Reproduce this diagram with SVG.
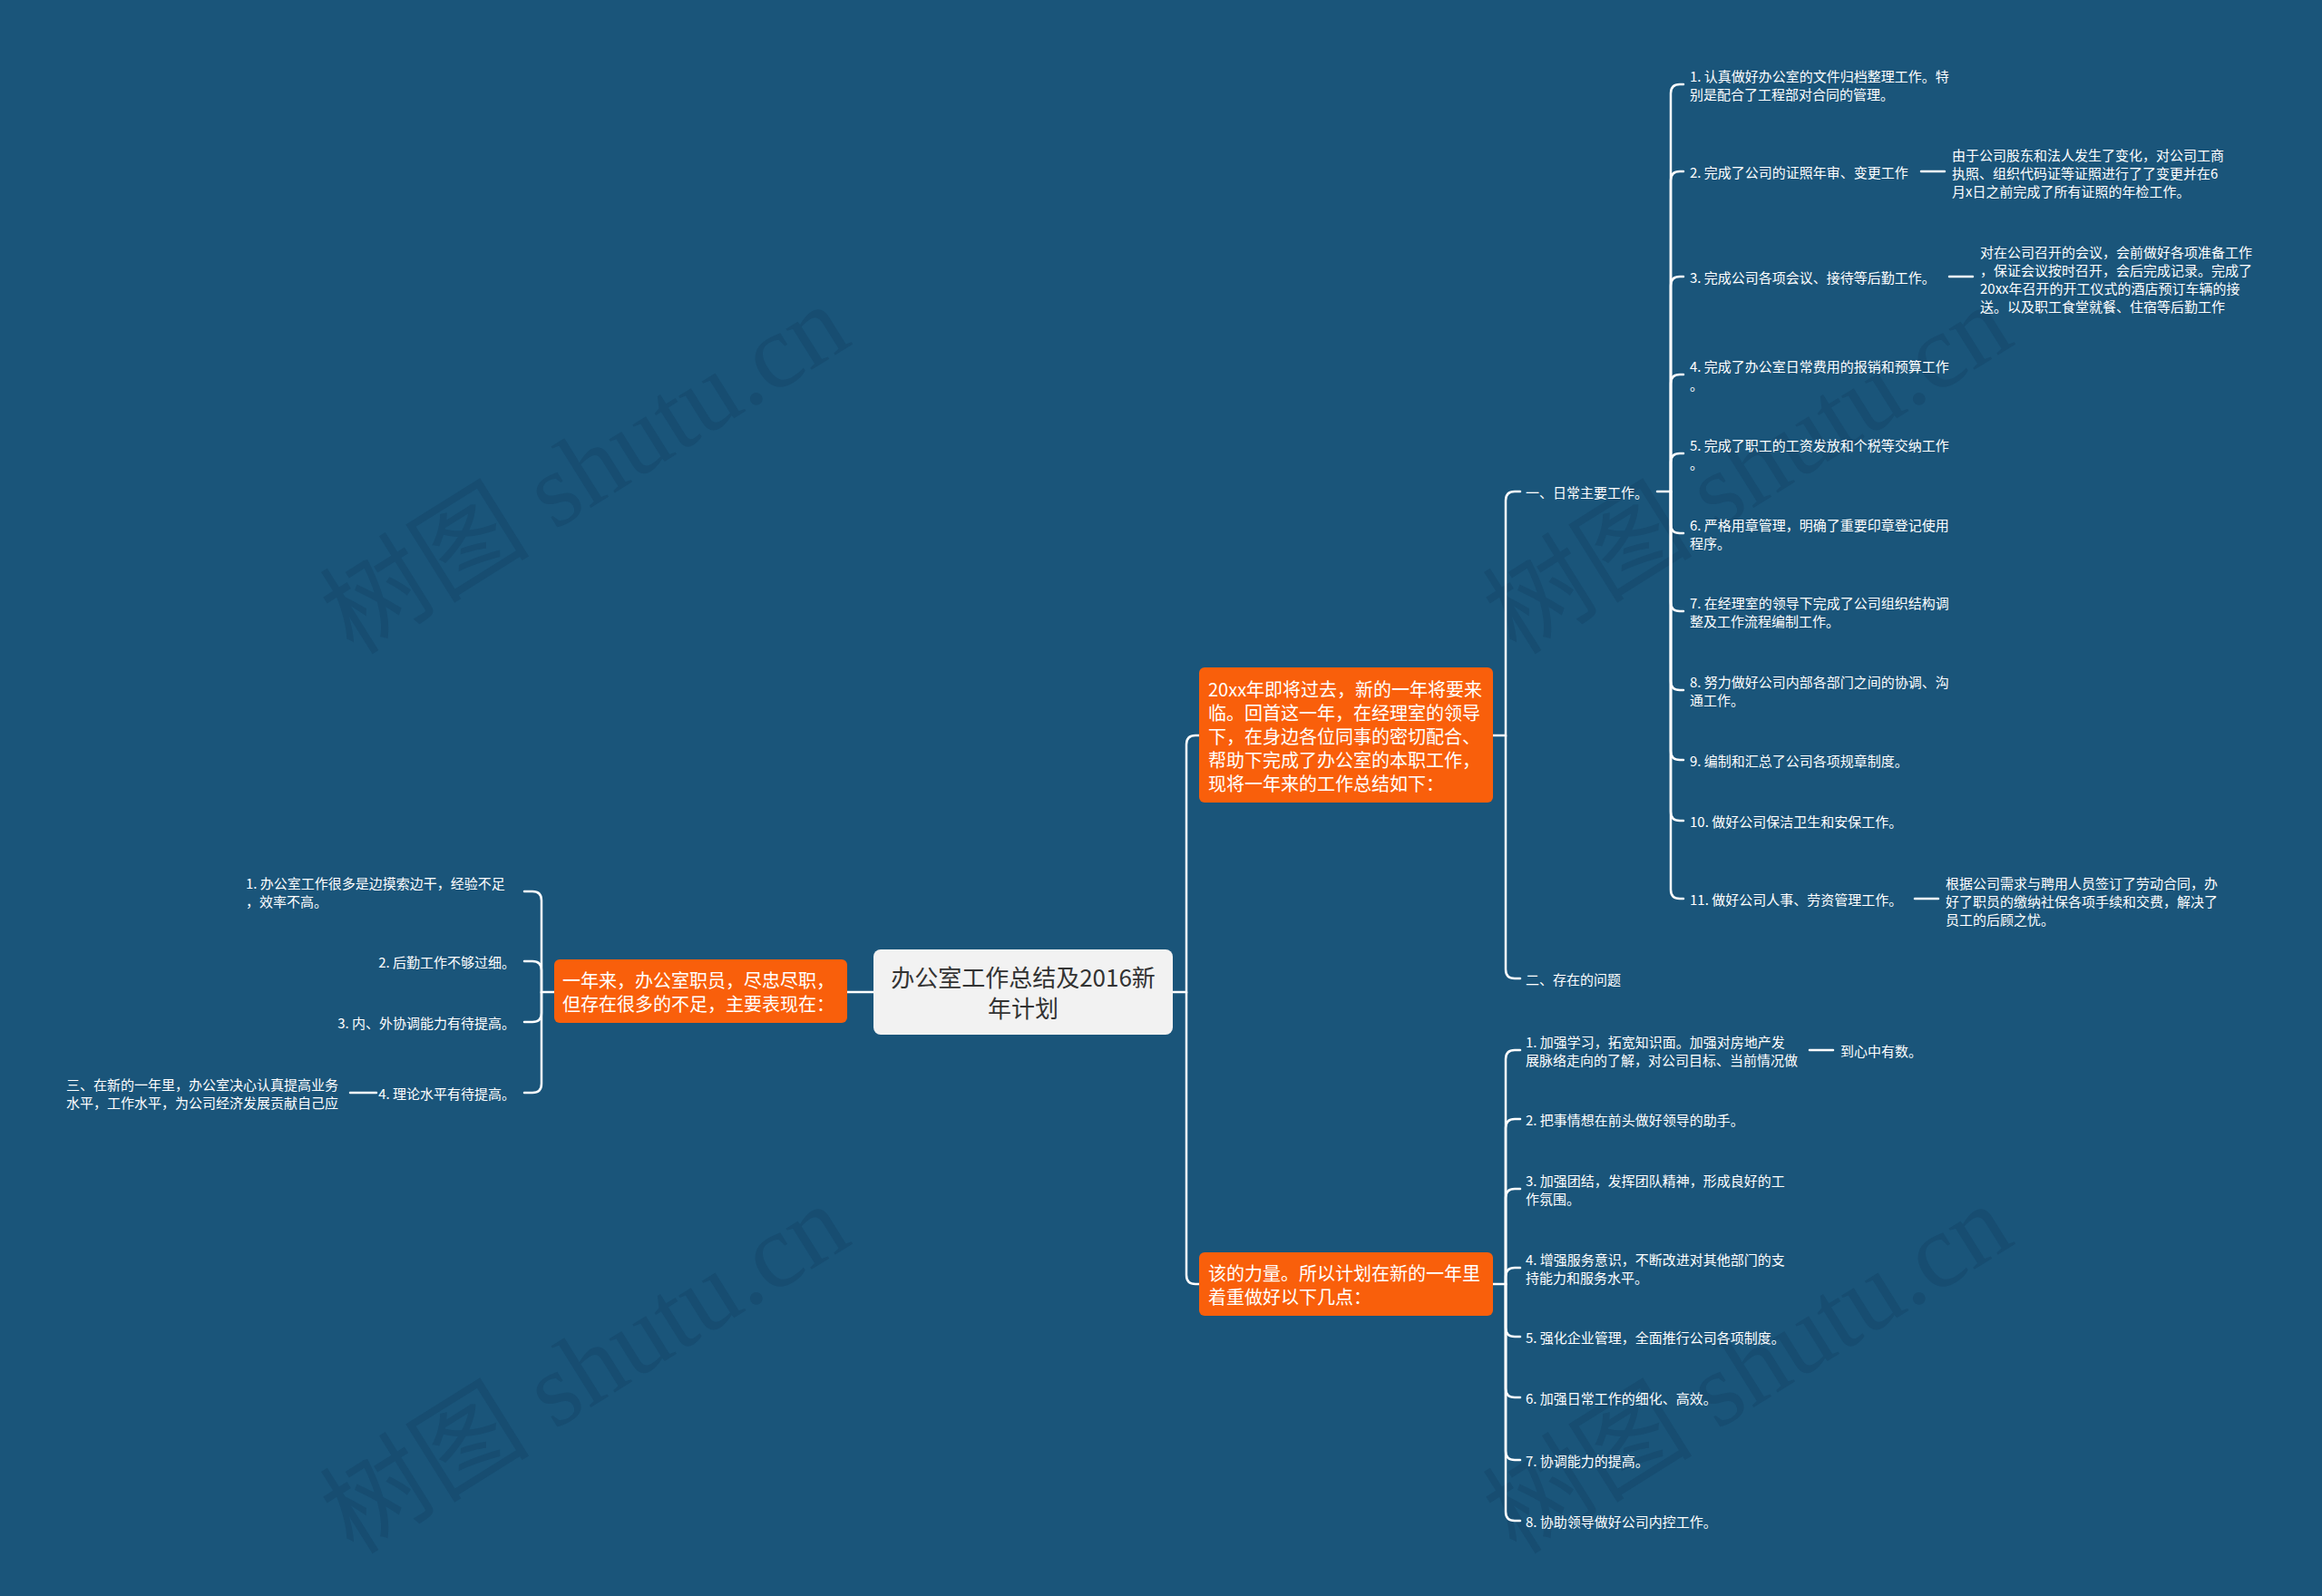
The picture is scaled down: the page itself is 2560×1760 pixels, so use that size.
<svg xmlns="http://www.w3.org/2000/svg" width="2560" height="1760" viewBox="0 0 2560 1760">
<style>
.bg{fill:#1A557A}
.wm{font-family:"Liberation Serif","Noto Sans CJK SC",serif;font-size:116px;fill:#174D71;text-anchor:middle;dominant-baseline:central}
.c{fill:none;stroke:#FFFFFF;stroke-width:2.5;stroke-linecap:round}
.t{font-family:"Noto Sans CJK SC","Noto Sans",sans-serif;font-size:15px;fill:#FFFFFF;dominant-baseline:central}
.e{text-anchor:end}
.o{fill:#F95F0B}
.ot{font-family:"Noto Sans CJK SC","Noto Sans",sans-serif;font-size:20px;fill:#FFFFFF;dominant-baseline:central}
.rt{font-family:"Noto Sans CJK SC","Noto Sans",sans-serif;font-size:26px;fill:#333333;text-anchor:middle;dominant-baseline:central}
</style>
<rect class="bg" x="0" y="0" width="2560" height="1760"/>
<g id="watermarks">
<text class="wm" transform="translate(645,518) rotate(-32)">树图 shutu.cn</text>
<text class="wm" transform="translate(1927,518) rotate(-32)">树图 shutu.cn</text>
<text class="wm" transform="translate(645,1510) rotate(-32)">树图 shutu.cn</text>
<text class="wm" transform="translate(1927,1510) rotate(-32)">树图 shutu.cn</text>
</g>
<g id="connectors">
<path class="c" d="M963,1094 H934"/>
<path class="c" d="M1293,1094 H1308 V821 Q1308,811 1318,811 H1322"/>
<path class="c" d="M1308,1094 V1406 Q1308,1416 1318,1416 H1322"/>
<path class="c" d="M611,1094 H597 V993 Q597,983 587,983 H578"/>
<path class="c" d="M597,1094 V1070 Q597,1060 587,1060 H578"/>
<path class="c" d="M597,1094 V1117 Q597,1127 587,1127 H578"/>
<path class="c" d="M597,1094 V1195 Q597,1205 587,1205 H578"/>
<path class="c" d="M415,1205 H386"/>
<path class="c" d="M1646,811 H1660 V552 Q1660,542 1670,542 H1676"/>
<path class="c" d="M1660,811 V1069 Q1660,1079 1670,1079 H1676"/>
<path class="c" d="M1827,542 H1842 V103 Q1842,93 1852,93 H1856"/>
<path class="c" d="M1842,542 V199 Q1842,189 1852,189 H1856"/>
<path class="c" d="M1842,542 V315 Q1842,305 1852,305 H1856"/>
<path class="c" d="M1842,542 V423 Q1842,413 1852,413 H1856"/>
<path class="c" d="M1842,542 V510 Q1842,500 1852,500 H1856"/>
<path class="c" d="M1842,542 V578 Q1842,588 1852,588 H1856"/>
<path class="c" d="M1842,542 V664 Q1842,674 1852,674 H1856"/>
<path class="c" d="M1842,542 V751 Q1842,761 1852,761 H1856"/>
<path class="c" d="M1842,542 V828 Q1842,838 1852,838 H1856"/>
<path class="c" d="M1842,542 V895 Q1842,905 1852,905 H1856"/>
<path class="c" d="M1842,542 V981 Q1842,991 1852,991 H1856"/>
<path class="c" d="M2118,189 H2144"/>
<path class="c" d="M2149,305 H2175"/>
<path class="c" d="M2111,991 H2137"/>
<path class="c" d="M1646,1416 H1660 V1168 Q1660,1158 1670,1158 H1676"/>
<path class="c" d="M1660,1416 V1244 Q1660,1234 1670,1234 H1676"/>
<path class="c" d="M1660,1416 V1321 Q1660,1311 1670,1311 H1676"/>
<path class="c" d="M1660,1416 V1408 Q1660,1398 1670,1398 H1676"/>
<path class="c" d="M1660,1416 V1464 Q1660,1474 1670,1474 H1676"/>
<path class="c" d="M1660,1416 V1531 Q1660,1541 1670,1541 H1676"/>
<path class="c" d="M1660,1416 V1600 Q1660,1610 1670,1610 H1676"/>
<path class="c" d="M1660,1416 V1667 Q1660,1677 1670,1677 H1676"/>
<path class="c" d="M1995,1158 H2021"/>
</g>
<g id="root">
<rect x="963" y="1047" width="330" height="94" rx="8" fill="#F2F2F2"/>
<text class="rt" x="1128" y="1076">办公室工作总结及2016新</text>
<text class="rt" x="1128" y="1110">年计划</text>
</g>
<g id="left-main">
<rect class="o" x="611" y="1058" width="323" height="70" rx="6"/>
<text class="ot" x="620" y="1080">一年来，办公室职员，尽忠尽职，</text>
<text class="ot" x="620" y="1106">但存在很多的不足，主要表现在：</text>
</g>
<g id="left-1"><text class="t" x="271" y="973">1. 办公室工作很多是边摸索边干，经验不足</text><text class="t" x="271" y="993">，效率不高。</text></g>
<g id="left-2"><text class="t e" x="568" y="1060">2. 后勤工作不够过细。</text></g>
<g id="left-3"><text class="t e" x="568" y="1127">3. 内、外协调能力有待提高。</text></g>
<g id="left-4"><text class="t e" x="568" y="1205">4. 理论水平有待提高。</text></g>
<g id="left-4-1"><text class="t" x="73" y="1195">三、在新的一年里，办公室决心认真提高业务</text><text class="t" x="73" y="1215">水平，工作水平，为公司经济发展贡献自己应</text></g>
<g id="top-main">
<rect class="o" x="1322" y="736" width="324" height="149" rx="6"/>
<text class="ot" x="1332" y="759">20xx年即将过去，新的一年将要来</text>
<text class="ot" x="1332" y="785">临。回首这一年，在经理室的领导</text>
<text class="ot" x="1332" y="811">下，在身边各位同事的密切配合、</text>
<text class="ot" x="1332" y="837">帮助下完成了办公室的本职工作，</text>
<text class="ot" x="1332" y="863">现将一年来的工作总结如下：</text>
</g>
<g id="daily"><text class="t" x="1682" y="542">一、日常主要工作。</text></g>
<g id="problems"><text class="t" x="1682" y="1079">二、存在的问题</text></g>
<g id="d1"><text class="t" x="1863" y="83">1. 认真做好办公室的文件归档整理工作。特</text><text class="t" x="1863" y="103">别是配合了工程部对合同的管理。</text></g>
<g id="d2"><text class="t" x="1863" y="189">2. 完成了公司的证照年审、变更工作</text></g>
<g id="d2-1"><text class="t" x="2152" y="170">由于公司股东和法人发生了变化，对公司工商</text><text class="t" x="2152" y="190">执照、组织代码证等证照进行了了变更并在6</text><text class="t" x="2152" y="210">月x日之前完成了所有证照的年检工作。</text></g>
<g id="d3"><text class="t" x="1863" y="305">3. 完成公司各项会议、接待等后勤工作。</text></g>
<g id="d3-1"><text class="t" x="2183" y="277">对在公司召开的会议，会前做好各项准备工作</text><text class="t" x="2183" y="297">，保证会议按时召开，会后完成记录。完成了</text><text class="t" x="2183" y="317">20xx年召开的开工仪式的酒店预订车辆的接</text><text class="t" x="2183" y="337">送。以及职工食堂就餐、住宿等后勤工作</text></g>
<g id="d4"><text class="t" x="1863" y="403">4. 完成了办公室日常费用的报销和预算工作</text><text class="t" x="1863" y="423">。</text></g>
<g id="d5"><text class="t" x="1863" y="490">5. 完成了职工的工资发放和个税等交纳工作</text><text class="t" x="1863" y="510">。</text></g>
<g id="d6"><text class="t" x="1863" y="578">6. 严格用章管理，明确了重要印章登记使用</text><text class="t" x="1863" y="598">程序。</text></g>
<g id="d7"><text class="t" x="1863" y="664">7. 在经理室的领导下完成了公司组织结构调</text><text class="t" x="1863" y="684">整及工作流程编制工作。</text></g>
<g id="d8"><text class="t" x="1863" y="751">8. 努力做好公司内部各部门之间的协调、沟</text><text class="t" x="1863" y="771">通工作。</text></g>
<g id="d9"><text class="t" x="1863" y="838">9. 编制和汇总了公司各项规章制度。</text></g>
<g id="d10"><text class="t" x="1863" y="905">10. 做好公司保洁卫生和安保工作。</text></g>
<g id="d11"><text class="t" x="1863" y="991">11. 做好公司人事、劳资管理工作。</text></g>
<g id="d11-1"><text class="t" x="2145" y="973">根据公司需求与聘用人员签订了劳动合同，办</text><text class="t" x="2145" y="993">好了职员的缴纳社保各项手续和交费，解决了</text><text class="t" x="2145" y="1013">员工的后顾之忧。</text></g>
<g id="bottom-main">
<rect class="o" x="1322" y="1381" width="324" height="70" rx="6"/>
<text class="ot" x="1332" y="1403">该的力量。所以计划在新的一年里</text>
<text class="ot" x="1332" y="1429">着重做好以下几点：</text>
</g>
<g id="p1"><text class="t" x="1682" y="1148">1. 加强学习，拓宽知识面。加强对房地产发</text><text class="t" x="1682" y="1168">展脉络走向的了解，对公司目标、当前情况做</text></g>
<g id="p1-1"><text class="t" x="2029" y="1158">到心中有数。</text></g>
<g id="p2"><text class="t" x="1682" y="1234">2. 把事情想在前头做好领导的助手。</text></g>
<g id="p3"><text class="t" x="1682" y="1301">3. 加强团结，发挥团队精神，形成良好的工</text><text class="t" x="1682" y="1321">作氛围。</text></g>
<g id="p4"><text class="t" x="1682" y="1388">4. 增强服务意识，不断改进对其他部门的支</text><text class="t" x="1682" y="1408">持能力和服务水平。</text></g>
<g id="p5"><text class="t" x="1682" y="1474">5. 强化企业管理，全面推行公司各项制度。</text></g>
<g id="p6"><text class="t" x="1682" y="1541">6. 加强日常工作的细化、高效。</text></g>
<g id="p7"><text class="t" x="1682" y="1610">7. 协调能力的提高。</text></g>
<g id="p8"><text class="t" x="1682" y="1677">8. 协助领导做好公司内控工作。</text></g>
</svg>
